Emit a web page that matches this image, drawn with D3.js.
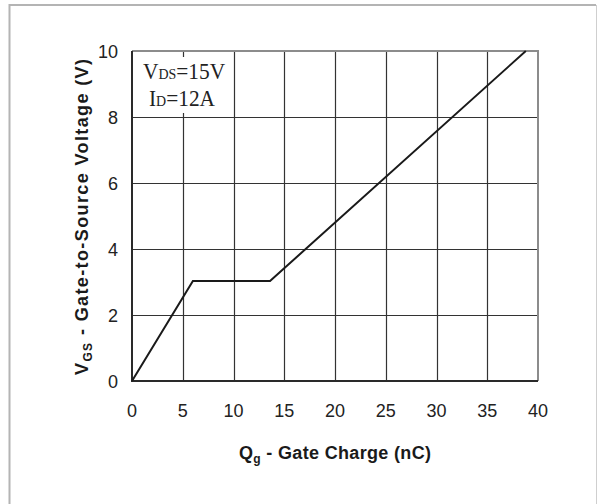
<!DOCTYPE html>
<html>
<head>
<meta charset="utf-8">
<script src="https://cdn.jsdelivr.net/npm/d3@7"></script>
<style>
  body { margin: 0; background: #fff; }
  svg { display: block; }
</style>
</head>
<body>
<div id="chart-area"></div>
<script>
let width = 598;
let height = 504;

// curve: Qg (nC) vs VGS (V)
let charge = [0, 6.0, 13.6, 38.8];
let voltage = [0, 3.03, 3.03, 10];

let xTicks = [0, 5, 10, 15, 20, 25, 30, 35, 40];
let yTicks = [0, 2, 4, 6, 8, 10];

let plot = { left: 132, top: 51, width: 406, height: 330 };

let svg = d3.select("#chart-area")
	.append("svg")
	.attr("width", width)
	.attr("height", height);

// outer frame (no bottom edge)
svg.append("path")
	.attr("d", "M9.5,504 V5 H596")
	.attr("fill", "none")
	.attr("stroke", "#b4b4b4")
	.attr("stroke-width", 2);
svg.append("line")
	.attr("x1", 596.5).attr("x2", 596.5)
	.attr("y1", 5).attr("y2", 504)
	.attr("stroke", "#cfcfcf")
	.attr("stroke-width", 1);

let x = d3.scaleLinear()
	.domain([0, 40])
	.range([plot.left, plot.left + plot.width]);

let y = d3.scaleLinear()
	.domain([0, 10])
	.range([plot.top + plot.height, plot.top]);

// grid
let g = svg.append("g");
g.selectAll(".vgrid")
	.data(xTicks.slice(1, -1))
	.enter()
	.append("line")
	.attr("x1", d => Math.round(x(d)) + 0.5)
	.attr("x2", d => Math.round(x(d)) + 0.5)
	.attr("y1", y(10))
	.attr("y2", y(0))
	.attr("stroke", "#333")
	.attr("stroke-width", 1.2);

g.selectAll(".hgrid")
	.data(yTicks.slice(1, -1))
	.enter()
	.append("line")
	.attr("x1", x(0))
	.attr("x2", x(40))
	.attr("y1", d => Math.round(y(d)) + 0.5)
	.attr("y2", d => Math.round(y(d)) + 0.5)
	.attr("stroke", "#333")
	.attr("stroke-width", 1.2);

// annotation box covers grid behind the text
svg.append("rect")
	.attr("x", x(0) + 1)
	.attr("y", 57)
	.attr("width", 99)
	.attr("height", 56)
	.attr("fill", "#fff");

// top and right frame (gray)
svg.append("path")
	.attr("d", `M${x(0)},${y(10)} H${x(40)} V${y(0)}`)
	.attr("fill", "none")
	.attr("stroke", "#8c8c8c")
	.attr("stroke-width", 2);

// left and bottom axes
svg.append("path")
	.attr("d", `M${x(0)},${y(10)} V${y(0)} H${x(40)}`)
	.attr("fill", "none")
	.attr("stroke", "#2a2a2a")
	.attr("stroke-width", 2);

// tick labels
svg.selectAll(".xlab")
	.data(xTicks)
	.enter()
	.append("text")
	.attr("x", d => x(d))
	.attr("y", 417)
	.attr("text-anchor", "middle")
	.style("font-family", "Liberation Sans, Arial, sans-serif")
	.style("font-size", "18px")
	.attr("fill", "#222")
	.text(d => d);

svg.selectAll(".ylab")
	.data(yTicks)
	.enter()
	.append("text")
	.attr("x", 118)
	.attr("y", d => y(d) + 6.5)
	.attr("text-anchor", "end")
	.style("font-family", "Liberation Sans, Arial, sans-serif")
	.style("font-size", "18px")
	.attr("fill", "#222")
	.text(d => d);

// curve
let line = d3.line()
	.x(d => x(d[0]))
	.y(d => y(d[1]));

svg.append("path")
	.datum(d3.zip(charge, voltage))
	.attr("d", line)
	.attr("fill", "none")
	.attr("stroke", "#1a1a1a")
	.attr("stroke-width", 2);

// annotation, two lines, narrow serif look
function note(xPos, yPos, main, sub, rest) {
	let t = svg.append("text")
		.attr("transform", `translate(${xPos}, ${yPos}) scale(0.93, 1)`)
		.style("font-family", "Liberation Serif, Times New Roman, serif")
		.style("font-size", "23px")
		.attr("fill", "#222");
	t.append("tspan").text(main);
	t.append("tspan").style("font-size", "15px").text(sub);
	t.append("tspan").text(rest);
}
note(143, 79, "V", "DS", "=15V");
note(149, 106, "I", "D", "=12A");

// axis titles
let xt = svg.append("text")
	.attr("x", (x(0) + x(40)) / 2)
	.attr("y", 459)
	.attr("text-anchor", "middle")
	.attr("textLength", 192)
	.attr("lengthAdjust", "spacing")
	.style("font-family", "Liberation Sans, Arial, sans-serif")
	.style("font-size", "18px")
	.style("font-weight", "bold")
	.attr("fill", "#1a1a1a");
xt.append("tspan").text("Q");
xt.append("tspan").attr("dy", 4).style("font-size", "12px").text("g");
xt.append("tspan").attr("dy", -4).text(" - Gate Charge (nC)");

let yt = svg.append("text")
	.attr("transform", `translate(88, ${(y(0) + y(10)) / 2 + 1}) rotate(-90)`)
	.attr("text-anchor", "middle")
	.attr("textLength", 316)
	.attr("lengthAdjust", "spacing")
	.style("font-family", "Liberation Sans, Arial, sans-serif")
	.style("font-size", "18px")
	.style("font-weight", "bold")
	.attr("fill", "#1a1a1a");
yt.append("tspan").text("V");
yt.append("tspan").attr("dy", 4).style("font-size", "12px").text("GS");
yt.append("tspan").attr("dy", -4).text(" - Gate-to-Source Voltage (V)");
</script>
</body>
</html>
